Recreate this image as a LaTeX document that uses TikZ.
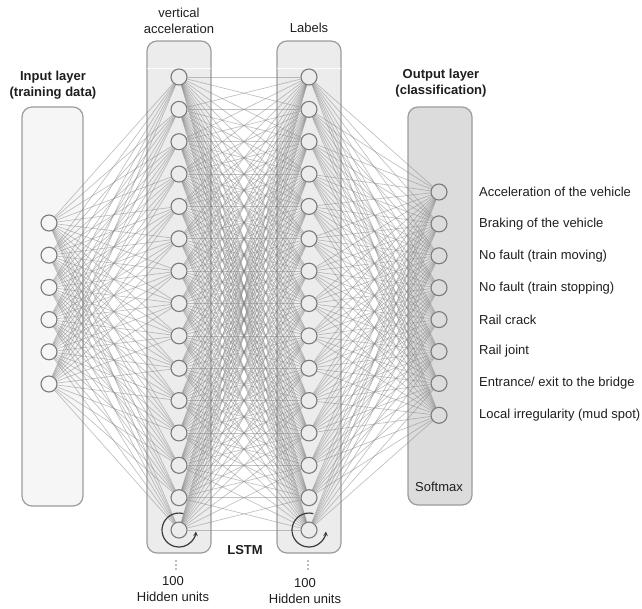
\documentclass[tikz,border=0pt]{standalone}
\usepackage{fontspec}
\setmainfont{Liberation Sans}
\usetikzlibrary{arrows.meta}
\pgfdeclarelayer{bg}
\pgfdeclarelayer{lines}
\pgfsetlayers{bg,lines,main}
\definecolor{boxedge}{HTML}{9C9C9C}
\definecolor{nodeedge}{HTML}{7A7A7A}
\definecolor{linegray}{HTML}{858585}
\definecolor{loopgray}{HTML}{3C3C3C}
\definecolor{infill}{HTML}{F6F6F6}
\definecolor{hidfill}{HTML}{ECECEC}
\definecolor{outfill}{HTML}{DCDCDC}
\definecolor{txtcol}{HTML}{1E1E1E}
\begin{document}
\begin{tikzpicture}[x=1pt,y=1pt,
  txt/.style={font=\fontsize{13}{16}\selectfont, text=txtcol, align=center, inner sep=0pt},
  boldtxt/.style={font=\fontsize{13}{16}\selectfont\bfseries, text=txtcol, align=center, inner sep=0pt},
  unit/.style={circle, draw=nodeedge, line width=1.1pt, fill=#1, minimum size=16pt, inner sep=0pt},
  layerbox/.style={draw=boxedge, line width=1.2pt, rounded corners=10pt, fill=#1, inner sep=0pt},
  conn/.style={draw=linegray, line width=0.7pt, opacity=0.5},
  loopline/.style={draw=loopgray, line width=1.2pt, -{Stealth[length=4.5pt,width=4.5pt]}},
  dotmark/.style={fill=nodeedge}
]
\useasboundingbox (0,0) rectangle (642,-608);

% layer boxes
\begin{pgfonlayer}{bg}
\node[layerbox=infill, minimum width=61pt, minimum height=399pt] (inbox) at (52.5,-306.5) {};
\node[layerbox=hidfill, minimum width=64pt, minimum height=512pt] (hbox1) at (179,-297) {};
\node[layerbox=hidfill, minimum width=64pt, minimum height=512pt] (hbox2) at (309,-297) {};
\node[layerbox=outfill, minimum width=64pt, minimum height=398pt] (outbox) at (440,-306) {};
\draw[white, line width=1pt, opacity=0.8] ([xshift=0.8pt,yshift=-28pt]hbox1.north west) -- ([xshift=-0.8pt,yshift=-28pt]hbox1.north east);
\draw[white, line width=1pt, opacity=0.8] ([xshift=0.8pt,yshift=-28pt]hbox2.north west) -- ([xshift=-0.8pt,yshift=-28pt]hbox2.north east);
\end{pgfonlayer}

% units
\foreach \k in {1,...,6} {
  \node[unit=infill] (i\k) at (49,{-223-32.2*(\k-1)}) {};
}
\foreach \k in {1,...,15} {
  \node[unit=hidfill] (a\k) at (179,{-77-32.36*(\k-1)}) {};
  \node[unit=hidfill] (b\k) at (309,{-77-32.36*(\k-1)}) {};
}
\foreach \k in {1,...,8} {
  \node[unit=outfill] (o\k) at (439,{-192-31.9*(\k-1)}) {};
}

% connections
\begin{pgfonlayer}{lines}
\foreach \p in {1,...,6} { \foreach \q in {1,...,15} { \path[conn] (i\p) -- (a\q); } }
\foreach \p in {1,...,15} { \foreach \q in {1,...,15} { \path[conn] (a\p) -- (b\q); } }
\foreach \p in {1,...,15} { \foreach \q in {1,...,8} { \path[conn] (b\p) -- (o\q); } }
\end{pgfonlayer}

% recurrent loops
\draw[loopline] ([shift={(75:17pt)}]a15.center) arc[start angle=75, end angle=355, radius=17pt];
\draw[loopline] ([shift={(75:17pt)}]b15.center) arc[start angle=75, end angle=355, radius=17pt];

% vertical dots
\foreach \yy in {-561,-565,-569} {
  \fill[dotmark] (176,\yy) circle (0.9pt);
  \fill[dotmark] (308,\yy) circle (0.9pt);
}

% titles
\node[txt] (tva) at (179,-20.5) {vertical\\acceleration};
\node[txt] (tlab) at (309,-28) {Labels};
\node[boldtxt] (tin) at (53,-85) {Input layer\\(training data)};
\node[boldtxt] (tout) at (441,-83) {Output layer\\(classification)};
\node[txt] (tsm) at (439,-487) {Softmax};
\node[boldtxt] (tlstm) at (245,-550) {LSTM};
\node[txt] (th1) at (173,-589) {100\\Hidden units};
\node[txt] (th2) at (305,-591) {100\\Hidden units};

% output labels
\node[txt, anchor=west] (l1) at (479,-192) {Acceleration of the vehicle};
\node[txt, anchor=west] (l2) at (479,-223.9) {Braking of the vehicle};
\node[txt, anchor=west] (l3) at (479,-255.8) {No fault (train moving)};
\node[txt, anchor=west] (l4) at (479,-287.7) {No fault (train stopping)};
\node[txt, anchor=west] (l5) at (479,-319.6) {Rail crack};
\node[txt, anchor=west] (l6) at (479,-351.5) {Rail joint};
\node[txt, anchor=west] (l7) at (479,-383.4) {Entrance/ exit to the bridge};
\node[txt, anchor=west] (l8) at (479,-415.3) {Local irregularity (mud spot)};
\end{tikzpicture}
\end{document}
